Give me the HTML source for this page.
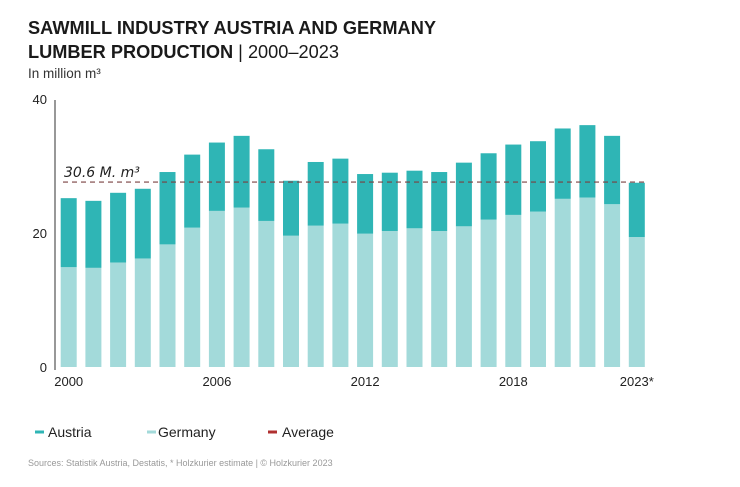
<!DOCTYPE html>
<html><head><meta charset="utf-8"><style>
body{margin:0;background:#fff;width:740px;height:482px;overflow:hidden;font-family:"Liberation Sans",sans-serif}
</style></head><body>
<svg width="740" height="482" xmlns="http://www.w3.org/2000/svg" font-family="Liberation Sans, sans-serif">
<text x="28" y="34" font-size="18.2" font-weight="bold" fill="#1a1a1a" textLength="408">SAWMILL INDUSTRY AUSTRIA AND GERMANY</text>
<text x="28" y="58" font-size="18.2" fill="#1a1a1a"><tspan font-weight="bold">LUMBER PRODUCTION</tspan> | 2000–2023</text>
<text x="28" y="78" font-size="13.5" fill="#333">In million m³</text>
<g id="bars"></g>
<g id="axis"></g>
<text x="64" y="177" font-size="14" font-style="italic" fill="#222" font-family="DejaVu Sans, sans-serif">30.6 M. m³</text>
<g>
<line x1="35" y1="432" x2="44" y2="432" stroke="#2fb5b5" stroke-width="3"/>
<text x="48" y="437" font-size="14" fill="#222">Austria</text>
<line x1="147" y1="432" x2="156" y2="432" stroke="#a3dada" stroke-width="3"/>
<text x="158" y="437" font-size="14" fill="#222">Germany</text>
<line x1="268" y1="432" x2="277" y2="432" stroke="#b03030" stroke-width="3"/>
<text x="282" y="437" font-size="14" fill="#222">Average</text>
</g>
<text x="28" y="466" font-size="9" fill="#999">Sources: Statistik Austria, Destatis, * Holzkurier estimate | © Holzkurier 2023</text>
</svg>
<script>
const years = [2000,2001,2002,2003,2004,2005,2006,2007,2008,2009,2010,2011,2012,2013,2014,2015,2016,2017,2018,2019,2020,2021,2022,2023];
const germany = [14.9,14.8,15.6,16.2,18.3,20.8,23.3,23.8,21.8,19.6,21.1,21.4,19.9,20.3,20.7,20.3,21.0,22.0,22.7,23.2,25.1,25.3,24.3,19.4];
const totals = [25.2,24.8,26.0,26.6,29.1,31.7,33.5,34.5,32.5,27.8,30.6,31.1,28.8,29.0,29.3,29.1,30.5,31.9,33.2,33.7,35.6,36.1,34.5,27.5];
const average = [27.6];
const yTicks = [0,20,40];
const xLabels = {2000:"2000",2006:"2006",2012:"2012",2018:"2018",2023:"2023*"};
const NS="http://www.w3.org/2000/svg";
const y = v => 367 - v*6.7;
const x = i => 68.7 + i*24.7;
const bw = 16;
const bars=document.getElementById('bars'), axis=document.getElementById('axis');
function mk(tag,attrs,parent){const e=document.createElementNS(NS,tag);for(const k in attrs)e.setAttribute(k,attrs[k]);parent.appendChild(e);return e;}
years.forEach((yr,i)=>{
  const austria = totals[i]-germany[i];
  const g = mk('rect',{x:x(i)-bw/2,y:y(germany[i]),width:bw,height:y(0)-y(germany[i]),fill:'#a3dada'},bars);
  
  
  const a = mk('rect',{x:x(i)-bw/2,y:y(germany[i]+austria),width:bw,height:y(germany[i])-y(germany[i]+austria),fill:'#2fb5b5'},bars);
  
  
  if(xLabels[yr]){
    const t=mk('text',{x:x(i),y:386,'font-size':13,fill:'#222','text-anchor':'middle'},axis);
    t.textContent=xLabels[yr];
    
    
  }
});
const al=mk('line',{x1:55,y1:100,x2:55,y2:370,stroke:'#777','stroke-width':1.5},axis);


yTicks.forEach(v=>{
  const t=mk('text',{x:47,y:y(v)+5,'font-size':13,fill:'#222','text-anchor':'end'},axis);
  t.textContent=v;
  
  
});
const avg=mk('line',{x1:63,y1:y(average[0]),x2:645,y2:y(average[0]),stroke:'#7a4040','stroke-width':1.2,'stroke-dasharray':'5,4'},axis);


</script>
</body></html>
